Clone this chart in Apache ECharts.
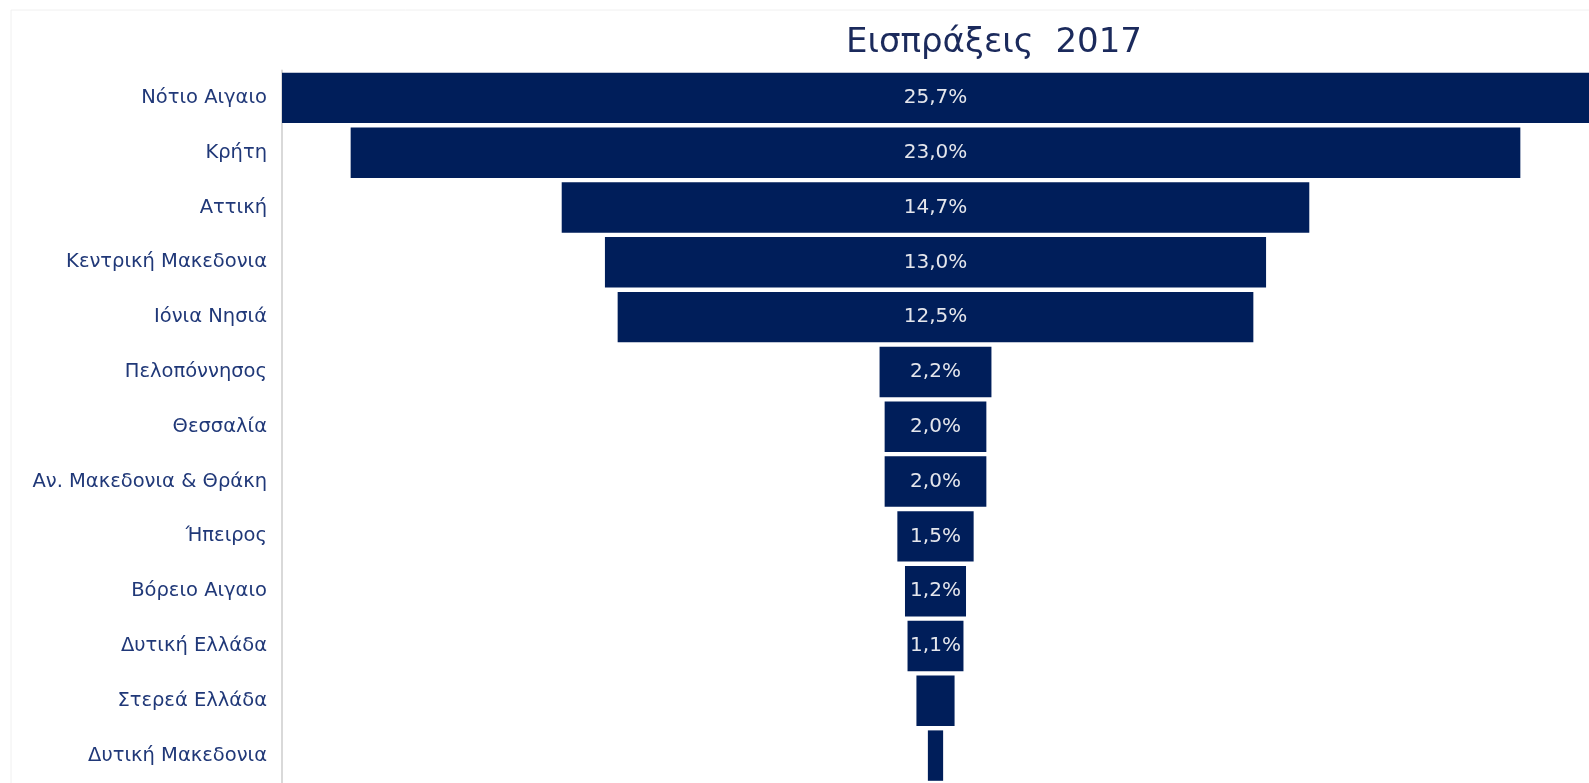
<!DOCTYPE html>
<html>
<head>
<meta charset="utf-8">
<script src="https://cdn.jsdelivr.net/npm/echarts@6/dist/echarts.min.js"></script>
<style>
html,body{margin:0;padding:0;background:#fff;}
#c{width:1589px;height:783px;}
</style>
</head>
<body>
<div id="c"></div>
<script>
const titleText = 'Εισπράξεις  2017';
const categories = ['Νότιο Αιγαιο','Κρήτη','Αττική','Κεντρική Μακεδονια','Ιόνια Νησιά','Πελοπόννησος','Θεσσαλία','Αν. Μακεδονια & Θράκη','Ήπειρος','Βόρειο Αιγαιο','Δυτική Ελλάδα','Στερεά Ελλάδα','Δυτική Μακεδονια'];
const values = [25.7, 23.0, 14.7, 13.0, 12.5, 2.2, 2.0, 2.0, 1.5, 1.2, 1.1, 0.75, 0.3];
const showValueLabel = [true,true,true,true,true,true,true,true,true,true,true,false,false];

const axisMax = Math.max.apply(null, values);
const offsets = values.map(v => (axisMax - v) / 2);

const chart = echarts.init(document.getElementById('c'));
chart.setOption({
  animation: false,
  title: {
    text: titleText,
    left: 989, top: 21, textAlign: 'center',
    textStyle: {fontFamily: 'DejaVu Sans', fontSize: 34, fontWeight: 'normal', color: '#1b2a5c'}
  },
  graphic: [
    {type: 'line', shape: {x1: 11, y1: 10, x2: 1589, y2: 10}, style: {stroke: '#f0f0f0', lineWidth: 1}},
    {type: 'line', shape: {x1: 11, y1: 10, x2: 11, y2: 783}, style: {stroke: '#f0f0f0', lineWidth: 1}}
  ],
  grid: {left: 282, right: 0, top: 70.5, bottom: -3, containLabel: false},
  xAxis: {type: 'value', min: 0, max: axisMax, show: false},
  yAxis: {
    type: 'category', data: categories, inverse: true,
    axisLine: {show: true, lineStyle: {color: '#d9d9d9', width: 2}},
    axisTick: {show: false},
    axisLabel: {margin: 15, fontFamily: 'DejaVu Sans', fontSize: 19.5, color: '#203878', padding: [3, 0, 0, 0]}
  },
  series: [
    {
      type: 'bar', stack: 'f', data: offsets, silent: true,
      itemStyle: {color: 'transparent'}, barCategoryGap: '8%'
    },
    {
      type: 'bar', stack: 'f', data: values, barCategoryGap: '8%',
      itemStyle: {color: '#001e5a'},
      label: {
        show: true, position: 'inside',
        fontFamily: 'DejaVu Sans', fontSize: 20, color: '#e4e6ec',
        formatter: p => showValueLabel[p.dataIndex] ? p.value.toFixed(1).replace('.', ',') + '%' : ''
      }
    }
  ]
});
</script>
</body>
</html>
